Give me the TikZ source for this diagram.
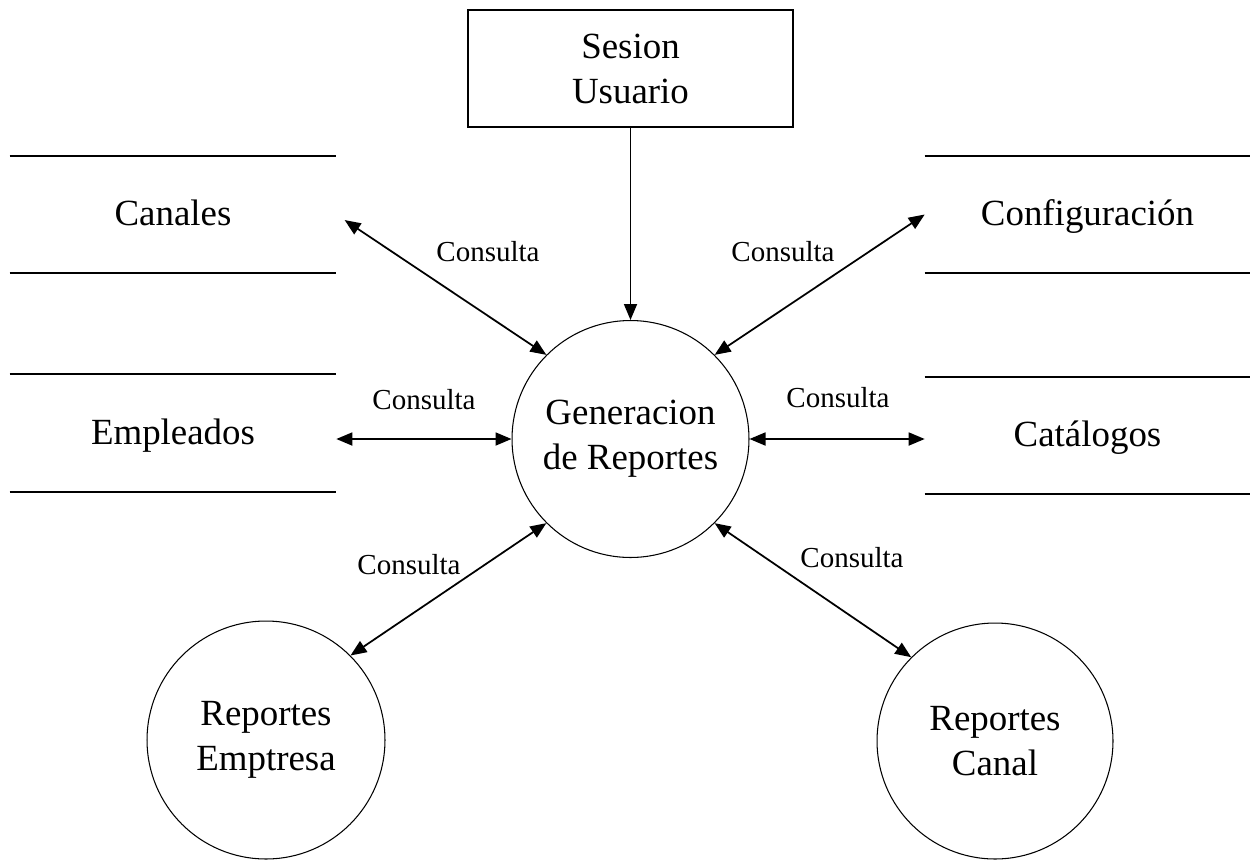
\documentclass[tikz,border=0pt]{standalone}
\usepackage{fontspec}
\setmainfont{Liberation Serif}
\usetikzlibrary{arrows.meta}

\begin{document}
\begin{tikzpicture}[
  x=0.02cm, y=-0.02cm,
  dfdtxt/.style = {font=\fontsize{21}{25.6}\selectfont, align=center, inner sep=0pt},
  dfdproc/.style = {dfdtxt, circle, draw, line width=0.6pt},
  dfdent/.style = {dfdtxt, rectangle, draw, line width=0.8pt,
    minimum width=6.5cm, minimum height=2.34cm},
  dfdstore/.style = {dfdtxt, rectangle, minimum width=6.52cm, minimum height=2.34cm,
    text height=17.2pt, text depth=4.2pt},
  dfdline/.style = {line width=1.2pt},
  dfdarr/.style = {line width=1pt, {Triangle[length=0.32cm, width=0.26cm]}-{Triangle[length=0.32cm, width=0.26cm]}},
  dfdlbl/.style = {font=\fontsize{16.5}{19}\selectfont, inner sep=0pt}
]
  \useasboundingbox (0,0) rectangle (1250,859);
  % entidad externa
  \node[dfdent] (sesion) at (630.5,68.5) {Sesion\\Usuario};
  % procesos
  \node[dfdproc, minimum size=4.74cm] (gen) at (630.5,439) {Generacion\\de Reportes};
  \node[dfdproc, minimum size=4.76cm] (emptresa) at (266,740) {Reportes\\Emptresa};
  \node[dfdproc, minimum size=4.72cm] (canal) at (995,741) {Reportes\\Canal};
  % almacenes
  \node[dfdstore] (canales) at (173,214.5) {Canales};
  \node[dfdstore] (empleados) at (173,433) {Empleados};
  \node[dfdstore, minimum width=6.5cm] (config) at (1087.5,214.5) {Configuración};
  \node[dfdstore, minimum width=6.5cm] (catalogos) at (1087.5,435.5) {Catálogos};
  \foreach \s in {canales, empleados, config, catalogos}
    \draw[dfdline] (\s.north west) -- (\s.north east)
                   (\s.south west) -- (\s.south east);
  % flujos
  \draw[line width=1pt, -{Triangle[length=0.32cm, width=0.26cm]}] (sesion) -- (gen);
  \draw[dfdarr, shorten <=0.2cm] (canales.east) -- (gen.135);
  \draw[dfdarr] (gen.45) -- (config.west);
  \draw[dfdarr] (empleados.east |- gen.west) -- (gen.west);
  \draw[dfdarr] (gen.east) -- (catalogos.west |- gen.east);
  \draw[dfdarr] (emptresa.45) -- (gen.225);
  \draw[dfdarr] (gen.-45) -- (canal.135);
  % etiquetas
  \node[dfdlbl] (l1) at (488,252) {Consulta};
  \node[dfdlbl] (l2) at (783,252) {Consulta};
  \node[dfdlbl] (l3) at (424,400) {Consulta};
  \node[dfdlbl] (l4) at (838,398) {Consulta};
  \node[dfdlbl] (l5) at (409,565) {Consulta};
  \node[dfdlbl] (l6) at (852,558) {Consulta};
\end{tikzpicture}
\end{document}
